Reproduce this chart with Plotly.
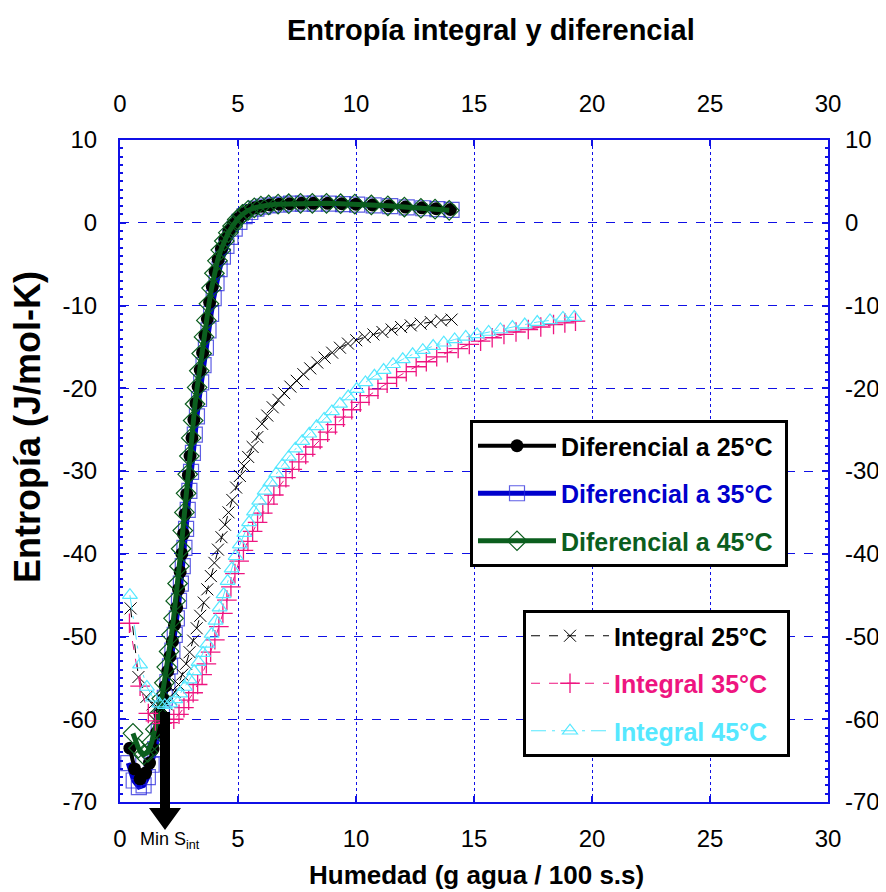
import plotly.graph_objects as go

# ---------------- data ----------------
DIF25_X = [0.42, 0.62, 0.85, 1.08, 1.25, 1.40, 1.55, 1.70, 1.82, 1.92, 2.02, 2.12, 2.22, 2.31, 2.40, 2.48, 2.55, 2.62,
           2.69, 2.76, 2.83, 2.90, 2.97, 3.05, 3.13, 3.22, 3.31, 3.40, 3.50, 3.60, 3.70, 3.80, 3.91, 4.03, 4.16, 4.30,
           4.45, 4.62, 4.80, 5.00, 5.22, 5.46, 5.72, 6.00, 6.35, 6.75, 7.20, 7.70, 8.20, 8.80, 9.40, 10.0, 10.7, 11.4,
           12.1, 12.8, 13.4, 14.0]
DIF25_Y = [-63.5, -66.0, -67.2, -66.5, -65.3, -63.6, -61.6, -59.4, -57.6, -56.0, -54.2, -52.4, -50.6, -48.6, -46.5,
           -44.3, -42.2, -40.0, -37.6, -35.2, -32.8, -30.5, -28.2, -26.0, -23.8, -21.8, -19.8, -17.8, -15.7, -13.6,
           -11.6, -9.6, -7.7, -5.9, -4.4, -3.1, -2.0, -1.0, -0.2, 0.5, 1.1, 1.5, 1.8, 2.0, 2.15, 2.25, 2.3, 2.35, 2.35,
           2.35, 2.3, 2.25, 2.15, 2.05, 1.9, 1.8, 1.7, 1.6]

DIF35_X = [0.35, 0.58, 0.80, 1.00, 1.18, 1.34, 1.50, 1.64, 1.78, 1.90, 2.01, 2.12, 2.22, 2.32, 2.41, 2.50, 2.58, 2.66,
           2.73, 2.80, 2.87, 2.94, 3.01, 3.09, 3.17, 3.26, 3.35, 3.44, 3.54, 3.64, 3.75, 3.86, 3.97, 4.09, 4.22, 4.36,
           4.51, 4.68, 4.86, 5.06, 5.28, 5.52, 5.78, 6.06, 6.40, 6.80, 7.25, 7.75, 8.25, 8.85, 9.45, 10.05, 10.75,
           11.45, 12.15, 12.85, 13.45, 14.05]
DIF35_Y = [-65.3, -67.4, -68.2, -68.0, -67.0, -65.5, -63.6, -61.5, -59.4, -57.4, -55.5, -53.6, -51.7, -49.8, -47.8,
           -45.7, -43.6, -41.5, -39.3, -37.0, -34.7, -32.4, -30.1, -27.8, -25.6, -23.4, -21.3, -19.3, -17.2, -15.1,
           -13.0, -11.0, -9.1, -7.3, -5.6, -4.1, -2.8, -1.7, -0.7, 0.1, 0.8, 1.3, 1.7, 1.95, 2.1, 2.2, 2.3, 2.3, 2.3,
           2.3, 2.25, 2.2, 2.1, 2.0, 1.85, 1.75, 1.65, 1.55]

DIF45_X = [0.55, 0.78, 1.00, 1.18, 1.34, 1.50, 1.64, 1.77, 1.88, 1.98, 2.08, 2.18, 2.27, 2.36, 2.44, 2.52, 2.59, 2.66,
           2.73, 2.80, 2.87, 2.94, 3.02, 3.10, 3.18, 3.27, 3.36, 3.46, 3.56, 3.66, 3.77, 3.88, 4.00, 4.13, 4.27, 4.42,
           4.59, 4.77, 4.97, 5.19, 5.43, 5.69, 5.97, 6.30, 6.70, 7.15, 7.65, 8.15, 8.75, 9.35, 9.95, 10.65, 11.35,
           12.05, 12.75, 13.35, 13.95]
DIF45_Y = [-61.7, -63.5, -64.3, -64.0, -62.8, -61.2, -59.4, -57.5, -55.6, -53.7, -51.8, -49.8, -47.8, -45.7, -43.6,
           -41.5, -39.4, -37.2, -35.0, -32.7, -30.4, -28.2, -26.0, -23.9, -21.9, -19.9, -17.9, -15.8, -13.8, -11.8,
           -9.8, -7.9, -6.1, -4.6, -3.3, -2.2, -1.2, -0.4, 0.4, 1.0, 1.5, 1.8, 2.0, 2.15, 2.25, 2.3, 2.35, 2.35, 2.35,
           2.3, 2.25, 2.15, 2.05, 1.9, 1.75, 1.65, 1.5]

INT25_X = [0.45, 0.78, 1.12, 1.38, 1.60, 1.80, 1.98, 2.15, 2.32, 2.48, 2.64, 2.80, 2.95, 3.10, 3.25, 3.40, 3.55, 3.70,
           3.85, 4.00, 4.15, 4.30, 4.45, 4.60, 4.76, 4.92, 5.08, 5.25, 5.43, 5.62, 5.82, 6.02, 6.24, 6.47, 6.71, 6.96,
           7.22, 7.49, 7.77, 8.06, 8.36, 8.67, 8.99, 9.32, 9.66, 10.01, 10.37, 10.74, 11.12, 11.51, 11.91, 12.32,
           12.74, 13.17, 13.60, 14.05]
INT25_Y = [-46.6, -54.9, -57.3, -58.2, -58.6, -58.6, -58.2, -57.5, -56.7, -55.8, -54.6, -53.3, -51.9, -50.5, -49.0,
           -47.5, -45.9, -44.3, -42.7, -41.1, -39.5, -38.0, -36.5, -35.0, -33.5, -32.0, -30.6, -29.4, -28.3, -27.1,
           -25.9, -24.3, -23.3, -22.3, -21.4, -20.6, -19.8, -19.1, -18.3, -17.6, -16.9, -16.3, -15.7, -15.1, -14.6,
           -14.2, -13.8, -13.5, -13.2, -12.9, -12.6, -12.4, -12.2, -12.0, -11.8, -11.7]

INT35_X = [0.40, 0.85, 1.20, 1.50, 1.78, 2.04, 2.28, 2.50, 2.71, 2.91, 3.10, 3.29, 3.48, 3.66, 3.84, 4.02, 4.19, 4.36,
           4.53, 4.70, 4.87, 5.05, 5.23, 5.42, 5.62, 5.83, 6.05, 6.28, 6.52, 6.77, 7.03, 7.30, 7.58, 7.87, 8.17, 8.48,
           8.80, 9.13, 9.47, 9.82, 10.18, 10.55, 10.93, 11.32, 11.72, 12.13, 12.55, 12.98, 13.42, 13.87, 14.33, 14.80,
           15.28, 15.77, 16.27, 16.78, 17.30, 17.83, 18.37, 18.85, 19.30]
INT35_Y = [-48.4, -56.0, -59.3, -60.2, -60.5, -60.4, -60.0, -59.4, -58.6, -57.7, -56.8, -55.8, -54.6, -53.3, -51.9,
           -50.4, -48.8, -47.2, -45.6, -44.0, -42.4, -40.9, -39.6, -38.5, -37.3, -36.2, -35.1, -34.0, -32.9, -31.8,
           -30.8, -29.8, -28.9, -28.0, -27.1, -26.2, -25.3, -24.4, -23.5, -22.6, -21.7, -20.9, -20.1, -19.4, -18.7,
           -18.0, -17.4, -16.8, -16.2, -15.7, -15.2, -14.7, -14.3, -13.9, -13.5, -13.2, -12.9, -12.6, -12.3, -12.1,
           -11.9]

INT45_X = [0.42, 0.85, 1.14, 1.40, 1.66, 1.90, 2.12, 2.34, 2.55, 2.75, 2.95, 3.14, 3.33, 3.52, 3.70, 3.88, 4.05, 4.22,
           4.39, 4.56, 4.73, 4.90, 5.08, 5.27, 5.47, 5.68, 5.90, 6.13, 6.37, 6.62, 6.88, 7.15, 7.43, 7.72, 8.02, 8.33,
           8.65, 8.98, 9.32, 9.67, 10.03, 10.40, 10.78, 11.17, 11.57, 11.98, 12.40, 12.83, 13.27, 13.72, 14.18, 14.65,
           15.13, 15.62, 16.12, 16.63, 17.15, 17.68, 18.22, 18.77, 19.25]
INT45_Y = [-45.0, -53.4, -56.1, -57.4, -58.1, -58.3, -58.1, -57.6, -56.9, -56.1, -55.2, -54.2, -53.1, -52.0, -50.9,
           -49.7, -48.1, -46.5, -44.9, -43.3, -41.8, -40.3, -38.9, -37.5, -36.2, -34.9, -33.6, -32.4, -31.4, -30.3,
           -29.3, -28.3, -27.3, -26.4, -25.5, -24.6, -23.7, -22.8, -21.9, -21.0, -20.1, -19.3, -18.5, -17.8, -17.1,
           -16.5, -15.9, -15.4, -14.9, -14.5, -14.1, -13.8, -13.5, -13.2, -12.9, -12.6, -12.3, -12.0, -11.8, -11.5,
           -11.4]

X_TICKS = [0, 5, 10, 15, 20, 25, 30]
Y_TICKS = [-70, -60, -50, -40, -30, -20, -10, 0, 10]
Y_TICK_TEXT = ["-70", "-60", "-50", "-40", "-30", "-20", "-10", "0", "10"]

# ---------------- styling ----------------
BLUE_GRID = "#1010E6"
C_BLACK = "#000000"
C_BLUE = "#0000CC"
C_GREEN = "#0B5E1E"
C_MAGENTA = "#EE1580"
C_CYAN = "#55E8FF"
FONT = "Liberation Sans, Arial, sans-serif"

# page body has an 8px margin -> figure drawn at (8, 8)
OFF = 8
W, H = 886 - OFF, 892 - OFF
PL, PR, PT, PB = 120, 828, 140, 802          # plot area in window pixels
ML, MT = PL - OFF, PT - OFF
MR, MB = W - (PR - OFF), H - (PB - OFF)
PW, PH = PR - PL, PB - PT


def px_x(p):
    return (p - PL) / PW


def px_y(p):
    return (PB - p) / PH


fig = go.Figure()

NB = "\u00a0"

# differential curves (blue drawn first so black stays dominant)
fig.add_trace(go.Scatter(
    x=DIF35_X, y=DIF35_Y, mode="lines+markers", legend="legend", legendgroup="d35", legendrank=2,
    name=f"<span style='color:{C_BLUE}'><b>Diferencial a 35°C</b></span>{NB}",
    line=dict(color=C_BLUE, width=5),
    marker=dict(symbol="square-open", size=15, color="rgba(40,40,220,0.75)", line=dict(width=1.2)),
))
fig.add_trace(go.Scatter(
    x=DIF25_X, y=DIF25_Y, mode="lines+markers", legend="legend", legendgroup="d25", legendrank=1,
    name=f"<b>Diferencial a 25°C</b>{NB}",
    line=dict(color=C_BLACK, width=4),
    marker=dict(symbol="circle", size=13, color=C_BLACK),
))
fig.add_trace(go.Scatter(
    x=DIF45_X, y=DIF45_Y, mode="lines+markers", legend="legend", legendgroup="d45", legendrank=3,
    name=f"<span style='color:{C_GREEN}'><b>Diferencial a 45°C</b></span>{NB}",
    line=dict(color=C_GREEN, width=5),
    marker=dict(symbol="diamond-open", size=15, color=C_GREEN, line=dict(width=1.2)),
))

# integral curves
fig.add_trace(go.Scatter(
    x=INT25_X, y=INT25_Y, mode="lines+markers", legend="legend2", legendgroup="i25", legendrank=4,
    name=f"<b>Integral 25°C</b>{NB}{NB}",
    line=dict(color=C_BLACK, width=1, dash="dash"),
    marker=dict(symbol="x-thin-open", size=12, color=C_BLACK, line=dict(width=1, color=C_BLACK)),
))
fig.add_trace(go.Scatter(
    x=INT35_X, y=INT35_Y, mode="lines+markers", legend="legend2", legendgroup="i35", legendrank=5,
    name=f"<span style='color:{C_MAGENTA}'><b>Integral 35°C</b></span>{NB}{NB}",
    line=dict(color=C_MAGENTA, width=1, dash="dash"),
    marker=dict(symbol="cross-thin-open", size=14, color=C_MAGENTA, line=dict(width=1.3, color=C_MAGENTA)),
))
fig.add_trace(go.Scatter(
    x=INT45_X, y=INT45_Y, mode="lines+markers", legend="legend2", legendgroup="i45", legendrank=6,
    name=f"<span style='color:{C_CYAN}'><b>Integral 45°C</b></span>{NB}{NB}",
    line=dict(color=C_CYAN, width=1, dash="longdashdot"),
    marker=dict(symbol="triangle-up-open", size=13, color=C_CYAN, line=dict(width=1.2, color=C_CYAN)),
))

# empty trace to activate top / right axes
fig.add_trace(go.Scatter(x=[], y=[], xaxis="x2", yaxis="y2", showlegend=False, hoverinfo="skip"))

tickfont = dict(family=FONT, size=24, color="black")
axis_common = dict(showline=True, linecolor=BLUE_GRID, linewidth=2, mirror="ticks",
                   ticks="inside", tickcolor=BLUE_GRID, ticklen=6, tickwidth=1.5,
                   showgrid=True, gridcolor=BLUE_GRID, gridwidth=1.3, zeroline=False,
                   tickfont=tickfont, automargin=False)

legend_common = dict(bgcolor="white", bordercolor="black", borderwidth=3,
                     xanchor="left", yanchor="top", tracegroupgap=12,
                     itemwidth=78, traceorder="grouped",
                     font=dict(family=FONT, size=25, color="black"))

fig.update_layout(
    width=W, height=H,
    margin=dict(l=ML, r=MR, t=MT, b=MB, autoexpand=False),
    paper_bgcolor="white", plot_bgcolor="white",
    xaxis=dict(range=[0, 30], tickvals=X_TICKS, griddash="dot", ticklabelstandoff=14, **axis_common),
    yaxis=dict(range=[-70, 10], tickvals=Y_TICKS, ticktext=Y_TICK_TEXT, griddash="dash",
               ticklabelstandoff=16,
               minor=dict(ticks="inside", dtick=1, ticklen=3, tickcolor=BLUE_GRID, showgrid=False),
               **axis_common),
    xaxis2=dict(range=[0, 30], tickvals=X_TICKS, overlaying="x", side="top", matches="x",
                showgrid=False, zeroline=False, ticks="", showline=False, tickfont=tickfont,
                ticklabelstandoff=22, automargin=False),
    yaxis2=dict(range=[-70, 10], tickvals=Y_TICKS, ticktext=Y_TICK_TEXT, overlaying="y", side="right",
                matches="y", showgrid=False, zeroline=False, ticks="", showline=False, tickfont=tickfont,
                ticklabelstandoff=16, automargin=False),
    legend=dict(x=px_x(470), y=px_y(420), **legend_common),
    legend2=dict(x=px_x(523), y=px_y(610), **legend_common),
    showlegend=True,
)

# title and axis titles
fig.add_annotation(text="<b>Entropía integral y diferencial</b>", xref="paper", yref="paper",
                   x=px_x(491), y=px_y(30), showarrow=False,
                   font=dict(family=FONT, size=29, color="black"), xanchor="center", yanchor="middle")
fig.add_annotation(text="<b>Humedad (g agua / 100 s.s)</b>", xref="paper", yref="paper",
                   x=px_x(476), y=px_y(875), showarrow=False,
                   font=dict(family=FONT, size=26, color="black"), xanchor="center", yanchor="middle")
fig.add_annotation(text="<b>Entropía (J/mol-K)</b>", xref="paper", yref="paper",
                   x=px_x(27), y=px_y(427), showarrow=False, textangle=-90,
                   font=dict(family=FONT, size=36, color="black"), xanchor="center", yanchor="middle")

# "Min S_int" arrow (thick shaft + flat head, in paper coordinates so it can leave the plot area)
arrow_pts = [(160, 712), (170, 712), (170, 808), (181, 808), (165, 830), (149, 808), (160, 808)]
arrow_path = "M " + " L ".join(f"{px_x(a):.5f},{px_y(b):.5f}" for a, b in arrow_pts) + " Z"
fig.add_shape(type="path", path=arrow_path, xref="paper", yref="paper",
              fillcolor="black", line=dict(color="black", width=0), layer="above")
fig.add_annotation(text="Min S<sub>int</sub>", xref="paper", yref="paper",
                   x=px_x(138), y=px_y(840), showarrow=False, xanchor="left",
                   yanchor="middle", font=dict(family=FONT, size=18, color="black"))

fig.write_html("out.html")
